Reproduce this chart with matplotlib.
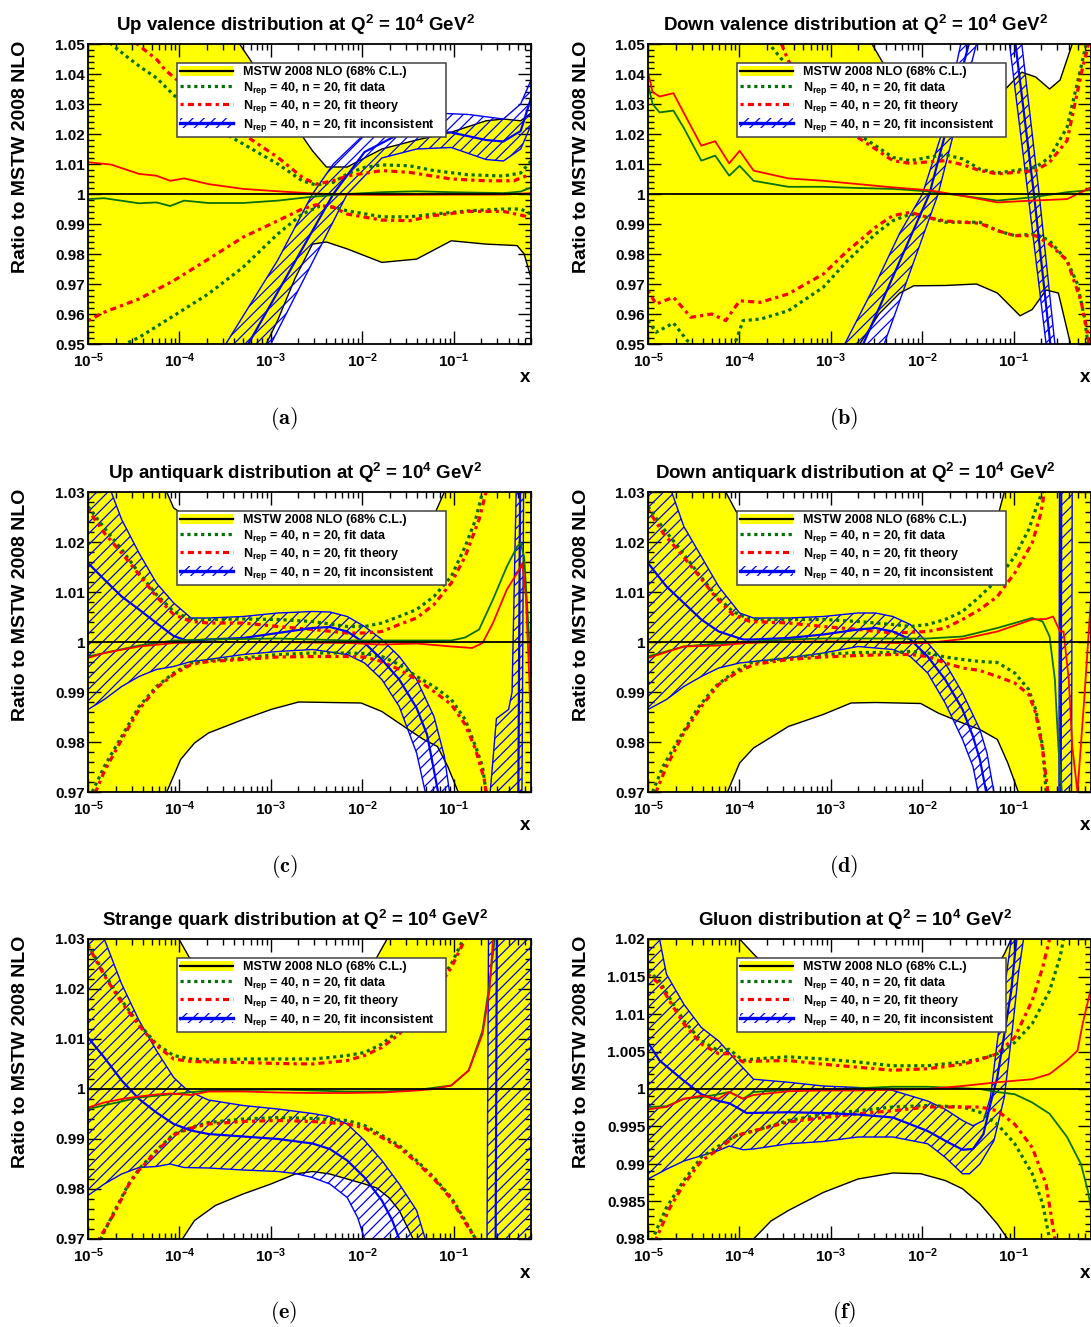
import numpy as np
import matplotlib
matplotlib.use('Agg')
import matplotlib.pyplot as plt
from matplotlib.patches import Patch
from matplotlib.lines import Line2D
from matplotlib.legend_handler import HandlerTuple
from matplotlib.ticker import FixedLocator, FuncFormatter, LogLocator, NullFormatter

plt.rcParams['font.family'] = ['Liberation Sans', 'DejaVu Sans']
plt.rcParams['font.weight'] = 'bold'
plt.rcParams['mathtext.fontset'] = 'custom'
plt.rcParams['mathtext.rm'] = 'Liberation Sans:bold'
plt.rcParams['mathtext.it'] = 'Liberation Sans:bold'
plt.rcParams['mathtext.bf'] = 'Liberation Sans:bold'
plt.rcParams['mathtext.sf'] = 'Liberation Sans:bold'
plt.rcParams['hatch.linewidth'] = 0.9

# ---------------- data: (log10 x, ratio) ----------------
# Panel (a) up valence
a_band_hi = [(-5, 1.08), (-4, 1.065), (-3.6, 1.055), (-3.342, 1.05), (-2.924, 1.031), (-2.545, 1.0144), (-2.393, 1.009), (-2.165, 1.009), (-1.975, 1.012), (-1.786, 1.015), (-1.406, 1.018), (-1.027, 1.0206), (-0.647, 1.0244), (-0.457, 1.025), (-0.268, 1.0244), (-0.154, 1.027)]
a_band_lo = [(-5, 0.90), (-4, 0.92), (-3.5, 0.94), (-3.05, 0.95), (-2.924, 0.958), (-2.734, 0.972), (-2.545, 0.9833), (-2.393, 0.984), (-2.165, 0.9817), (-1.786, 0.9772), (-1.406, 0.9783), (-1.027, 0.9844), (-0.647, 0.9833), (-0.306, 0.9828), (-0.230, 0.980), (-0.154, 0.972)]
a_gd_hi = [(-5, 1.062), (-4.746, 1.05), (-4.576, 1.0458), (-4.43, 1.0424), (-4.247, 1.0386), (-4.063, 1.033), (-3.683, 1.0233), (-3.304, 1.0167), (-2.924, 1.010), (-2.658, 1.0044), (-2.507, 1.003), (-2.317, 1.0039), (-2.165, 1.0067), (-1.975, 1.0089), (-1.786, 1.0097), (-1.482, 1.0094), (-1.216, 1.0078), (-0.837, 1.0064), (-0.457, 1.006), (-0.268, 1.007), (-0.154, 1.011)]
a_gd_lo = [(-5, 0.935), (-4.594, 0.95), (-4.442, 0.9522), (-4.063, 0.9594), (-3.683, 0.9667), (-3.304, 0.9756), (-2.924, 0.9867), (-2.658, 0.9933), (-2.469, 0.9959), (-2.317, 0.9956), (-2.165, 0.9944), (-1.786, 0.9924), (-1.482, 0.9924), (-1.216, 0.9933), (-0.837, 0.9944), (-0.457, 0.995), (-0.268, 0.995), (-0.154, 0.9933)]
a_gd_c = [(-5, 0.9983), (-4.822, 0.9986), (-4.442, 0.9969), (-4.252, 0.9972), (-4.101, 0.996), (-3.949, 0.9978), (-3.683, 0.997), (-3.304, 0.997), (-2.924, 0.9978), (-2.545, 0.9991), (-2.165, 1.0), (-1.786, 1.0006), (-1.406, 1.0009), (-1.027, 1.0006), (-0.457, 1.0003), (-0.268, 1.0008), (-0.154, 1.0022)]
a_th_hi = [(-5, 1.075), (-4.463, 1.05), (-4.244, 1.0447), (-4.156, 1.0413), (-4.063, 1.039), (-3.683, 1.0289), (-3.304, 1.02), (-2.924, 1.0122), (-2.658, 1.0056), (-2.507, 1.0033), (-2.317, 1.0044), (-2.165, 1.006), (-1.786, 1.0078), (-1.482, 1.0072), (-1.027, 1.005), (-0.647, 1.0044), (-0.343, 1.0044), (-0.154, 1.0067)]
a_th_lo = [(-5, 0.9578), (-4.822, 0.9606), (-4.442, 0.965), (-4.063, 0.9711), (-3.683, 0.9783), (-3.304, 0.9856), (-2.924, 0.9911), (-2.658, 0.995), (-2.507, 0.9964), (-2.317, 0.9956), (-2.165, 0.9933), (-1.786, 0.9913), (-1.482, 0.9911), (-1.216, 0.9928), (-0.837, 0.9942), (-0.457, 0.9942), (-0.154, 0.9922)]
a_th_c = [(-5, 1.0106), (-4.746, 1.0098), (-4.442, 1.0067), (-4.252, 1.0061), (-4.101, 1.0044), (-3.949, 1.0052), (-3.683, 1.0033), (-3.304, 1.0017), (-2.924, 1.0009), (-2.545, 1.0002), (-2.165, 0.9998), (-1.786, 0.9997), (-1.027, 0.9998), (-0.457, 0.9998), (-0.154, 1.0003)]
a_in_hi = [(-5, 0.80), (-4, 0.90), (-3.493, 0.95), (-2.924, 0.978), (-2.545, 1.0), (-2.317, 1.01), (-1.975, 1.02), (-1.596, 1.025), (-1.216, 1.027), (-0.837, 1.0265), (-0.457, 1.025), (-0.268, 1.030), (-0.154, 1.038)]
a_in_c = [(-5, 0.78), (-4, 0.88), (-3.247, 0.95), (-2.317, 1.0), (-1.975, 1.014), (-1.596, 1.020), (-1.406, 1.021), (-1.027, 1.0205), (-0.647, 1.018), (-0.457, 1.0175), (-0.268, 1.021), (-0.154, 1.032)]
a_in_lo = [(-5, 0.76), (-4, 0.86), (-3.0, 0.95), (-2.165, 1.0), (-1.786, 1.012), (-1.406, 1.015), (-1.027, 1.0155), (-0.647, 1.0115), (-0.457, 1.011), (-0.268, 1.015), (-0.154, 1.023)]

# Panel (b) down valence
b_band_hi = [(-5, 1.09), (-3, 1.07), (-2.550, 1.05), (-2.417, 1.043), (-2.131, 1.035), (-1.750, 1.031), (-1.370, 1.031), (-1.122, 1.034), (-0.912, 1.0406), (-0.760, 1.039), (-0.608, 1.035), (-0.493, 1.038), (-0.360, 1.05), (-0.154, 1.07)]
b_band_lo = [(-5, 0.90), (-3, 0.93), (-2.684, 0.95), (-2.474, 0.96), (-2.246, 0.967), (-2.093, 0.9694), (-1.750, 0.9695), (-1.408, 0.970), (-1.179, 0.967), (-0.931, 0.9594), (-0.798, 0.9615), (-0.646, 0.968), (-0.512, 0.967), (-0.379, 0.95), (-0.154, 0.92)]
b_gd_hi = [(-5, 1.10), (-3.674, 1.05), (-3.465, 1.0422), (-3.274, 1.035), (-3.084, 1.0289), (-2.817, 1.0222), (-2.512, 1.0161), (-2.322, 1.0122), (-2.131, 1.0111), (-1.941, 1.0122), (-1.750, 1.0131), (-1.560, 1.0117), (-1.370, 1.0083), (-1.179, 1.007), (-0.989, 1.0078), (-0.760, 1.0089), (-0.608, 1.0122), (-0.417, 1.0222), (-0.265, 1.0422), (-0.208, 1.05), (-0.154, 1.06)]
b_gd_lo = [(-5, 0.9578), (-4.912, 0.9539), (-4.722, 0.957), (-4.570, 0.9511), (-4.341, 0.946), (-4.074, 0.948), (-3.960, 0.9578), (-3.770, 0.9583), (-3.465, 0.9611), (-3.084, 0.9689), (-2.817, 0.9778), (-2.512, 0.9867), (-2.322, 0.9911), (-2.131, 0.9933), (-1.941, 0.9922), (-1.750, 0.9906), (-1.370, 0.9906), (-1.179, 0.9878), (-0.989, 0.9861), (-0.760, 0.9867), (-0.608, 0.9844), (-0.417, 0.9778), (-0.303, 0.970), (-0.227, 0.9589), (-0.189, 0.95), (-0.154, 0.94)]
b_gd_c = [(-5, 1.0367), (-4.95, 1.030), (-4.874, 1.0272), (-4.722, 1.0278), (-4.608, 1.022), (-4.417, 1.0111), (-4.265, 1.0128), (-4.112, 1.0061), (-3.998, 1.0094), (-3.846, 1.0044), (-3.465, 1.0024), (-3.084, 1.0024), (-2.703, 1.002), (-2.322, 1.0017), (-1.941, 1.0009), (-1.560, 0.9994), (-1.179, 0.9978), (-0.798, 0.9989), (-0.417, 1.0006), (-0.154, 1.0013)]
b_th_hi = [(-5, 1.10), (-3.541, 1.05), (-3.465, 1.0444), (-3.084, 1.0278), (-2.817, 1.0211), (-2.512, 1.015), (-2.322, 1.0111), (-2.131, 1.0102), (-1.941, 1.0107), (-1.750, 1.0111), (-1.560, 1.0098), (-1.370, 1.0078), (-1.179, 1.0067), (-0.989, 1.0072), (-0.760, 1.0078), (-0.608, 1.0106), (-0.417, 1.0178), (-0.246, 1.0422), (-0.189, 1.049), (-0.154, 1.056)]
b_th_lo = [(-5, 0.9678), (-4.912, 0.9633), (-4.722, 0.9656), (-4.531, 0.9589), (-4.303, 0.96), (-4.150, 0.9578), (-3.998, 0.9644), (-3.770, 0.9639), (-3.465, 0.9667), (-3.084, 0.9733), (-2.817, 0.9811), (-2.512, 0.9889), (-2.322, 0.9928), (-2.131, 0.9939), (-1.941, 0.9922), (-1.750, 0.991), (-1.370, 0.9902), (-1.179, 0.9878), (-0.989, 0.9861), (-0.760, 0.9861), (-0.608, 0.9833), (-0.417, 0.9778), (-0.265, 0.9644), (-0.189, 0.9533), (-0.154, 0.945)]
b_th_c = [(-5, 1.0406), (-4.95, 1.034), (-4.874, 1.0325), (-4.722, 1.0336), (-4.608, 1.027), (-4.417, 1.0161), (-4.265, 1.0176), (-4.112, 1.0102), (-3.998, 1.0144), (-3.846, 1.0078), (-3.465, 1.0052), (-3.084, 1.0044), (-2.703, 1.0033), (-2.322, 1.0022), (-1.941, 1.0013), (-1.560, 0.9994), (-1.179, 0.9972), (-0.798, 0.9978), (-0.417, 0.9983), (-0.154, 1.0022)]
b_in_hi = [(-5, 0.75), (-3.5, 0.90), (-2.848, 0.95), (-2.512, 0.97), (-2.246, 0.987), (-1.998, 1.0), (-1.789, 1.02), (-1.579, 1.05), (-1.370, 1.08), (-1.179, 1.09), (-0.989, 1.08), (-0.912, 1.05), (-0.722, 1.0), (-0.550, 0.95), (-0.154, 0.85)]
b_in_c = [(-5, 0.73), (-3.5, 0.88), (-2.646, 0.95), (-1.922, 1.0), (-1.491, 1.05), (-1.255, 1.075), (-0.981, 1.05), (-0.779, 1.0), (-0.600, 0.95), (-0.154, 0.84)]
b_in_lo = [(-5, 0.71), (-3.5, 0.86), (-2.417, 0.95), (-1.827, 1.0), (-1.408, 1.05), (-1.217, 1.065), (-1.046, 1.05), (-0.844, 1.0), (-0.646, 0.95), (-0.154, 0.83)]

# Panel (c) up antiquark
c_band_hi = [(-5, 1.06), (-4.3, 1.035), (-4.139, 1.03), (-4.063, 1.0268), (-4.006, 1.0261), (-3.683, 1.021), (-2.924, 1.0175), (-2.165, 1.0165), (-1.596, 1.018), (-1.292, 1.023), (-1.197, 1.0261), (-1.102, 1.03), (-0.837, 1.05), (-0.154, 1.06)]
c_band_lo = [(-5, 0.93), (-4.3, 0.96), (-4.139, 0.97), (-3.987, 0.9765), (-3.835, 0.9798), (-3.683, 0.9818), (-3.304, 0.9845), (-3.0, 0.9865), (-2.696, 0.988), (-2.355, 0.9879), (-2.013, 0.9878), (-1.786, 0.9861), (-1.520, 0.9828), (-1.330, 0.9805), (-1.178, 0.9791), (-1.065, 0.9751), (-0.951, 0.97), (-0.647, 0.94), (-0.154, 0.92)]
c_gd_hi = [(-5, 1.0271), (-4.822, 1.0228), (-4.632, 1.0185), (-4.442, 1.0138), (-4.252, 1.0095), (-4.063, 1.0061), (-3.873, 1.0045), (-3.683, 1.0045), (-3.304, 1.0046), (-2.924, 1.0045), (-2.545, 1.0041), (-2.165, 1.0031), (-1.975, 1.0031), (-1.786, 1.0038), (-1.596, 1.0051), (-1.406, 1.0065), (-1.216, 1.0091), (-1.027, 1.0131), (-0.875, 1.0191), (-0.761, 1.0245), (-0.685, 1.03), (-0.571, 1.05)]
c_gd_lo = [(-5, 0.966), (-4.954, 0.97), (-4.822, 0.9751), (-4.632, 0.9811), (-4.442, 0.9871), (-4.252, 0.9911), (-4.063, 0.9938), (-3.873, 0.9958), (-3.683, 0.9963), (-3.304, 0.9968), (-2.924, 0.9975), (-2.545, 0.9978), (-2.165, 0.9978), (-1.975, 0.9977), (-1.786, 0.9971), (-1.596, 0.9955), (-1.406, 0.9931), (-1.216, 0.9911), (-1.027, 0.9885), (-0.875, 0.9845), (-0.761, 0.9791), (-0.685, 0.9751), (-0.647, 0.97), (-0.609, 0.95)]
c_gd_c = [(-5, 0.9971), (-4.442, 0.9993), (-4.063, 1.0003), (-3.683, 1.0005), (-2.924, 1.0007), (-2.165, 1.0003), (-1.786, 1.0003), (-1.406, 1.0003), (-1.027, 1.0003), (-0.875, 1.0009), (-0.723, 1.0025), (-0.571, 1.0085), (-0.419, 1.0151), (-0.306, 1.0191), (-0.268, 1.0198), (-0.230, 1.017), (-0.192, 1.0058), (-0.154, 0.9938)]
c_th_hi = [(-5, 1.0265), (-4.822, 1.0218), (-4.632, 1.0178), (-4.442, 1.0135), (-4.252, 1.0091), (-4.063, 1.0055), (-3.873, 1.0041), (-3.683, 1.0038), (-3.304, 1.0038), (-2.924, 1.0031), (-2.545, 1.0025), (-2.165, 1.0018), (-1.975, 1.0018), (-1.786, 1.0021), (-1.596, 1.0035), (-1.406, 1.0048), (-1.216, 1.0075), (-1.027, 1.0118), (-0.875, 1.0171), (-0.723, 1.0245), (-0.647, 1.03), (-0.533, 1.05)]
c_th_lo = [(-5, 0.965), (-4.917, 0.97), (-4.822, 0.9741), (-4.632, 0.9805), (-4.442, 0.9865), (-4.252, 0.9908), (-4.063, 0.9935), (-3.873, 0.9955), (-3.683, 0.9961), (-3.304, 0.9965), (-2.924, 0.997), (-2.545, 0.9971), (-2.165, 0.9971), (-1.975, 0.997), (-1.786, 0.9961), (-1.596, 0.9945), (-1.406, 0.9925), (-1.216, 0.9901), (-1.027, 0.9875), (-0.875, 0.9835), (-0.761, 0.9785), (-0.666, 0.9725), (-0.647, 0.97), (-0.609, 0.95)]
c_th_c = [(-5, 0.9968), (-4.822, 0.9978), (-4.442, 0.9991), (-4.063, 0.9998), (-3.683, 1.0), (-2.924, 1.0), (-2.165, 0.9998), (-1.786, 0.9995), (-1.406, 0.9997), (-1.027, 0.9991), (-0.799, 0.9988), (-0.685, 0.9998), (-0.571, 1.0038), (-0.419, 1.0105), (-0.306, 1.0138), (-0.249, 1.0158), (-0.211, 1.0091), (-0.173, 0.9925), (-0.154, 0.9791)]
c_in_hi = [(-5, 1.04), (-4.746, 1.03), (-4.632, 1.0245), (-4.442, 1.0178), (-4.252, 1.0118), (-4.063, 1.0078), (-3.873, 1.0048), (-3.683, 1.0048), (-3.304, 1.0051), (-2.924, 1.0058), (-2.545, 1.0061), (-2.355, 1.006), (-2.165, 1.0051), (-1.975, 1.0031), (-1.786, 1.0005), (-1.596, 0.9971), (-1.406, 0.9925), (-1.216, 0.9851), (-1.102, 0.9771), (-1.046, 0.97), (-0.837, 0.95), (-0.647, 0.96), (-0.533, 0.9847), (-0.400, 0.9865), (-0.362, 0.99), (-0.306, 1.04), (-0.154, 1.06)]
c_in_c = [(-5, 1.0158), (-4.822, 1.0125), (-4.632, 1.0091), (-4.442, 1.0065), (-4.252, 1.0038), (-4.063, 1.0012), (-3.911, 1.0002), (-3.683, 1.0005), (-3.304, 1.0008), (-2.924, 1.0018), (-2.545, 1.0028), (-2.355, 1.003), (-2.165, 1.0021), (-1.975, 0.9998), (-1.786, 0.9965), (-1.596, 0.9925), (-1.406, 0.9868), (-1.292, 0.9815), (-1.171, 0.97), (-0.837, 0.93), (-0.306, 0.93), (-0.268, 1.05), (-0.154, 1.06)]
c_in_lo = [(-5, 0.9865), (-4.822, 0.9885), (-4.632, 0.9911), (-4.442, 0.9931), (-4.252, 0.9945), (-4.063, 0.9951), (-3.873, 0.9961), (-3.683, 0.9965), (-3.304, 0.9975), (-2.924, 0.9981), (-2.545, 0.9985), (-2.165, 0.9975), (-1.975, 0.9958), (-1.786, 0.9925), (-1.596, 0.9871), (-1.406, 0.9778), (-1.311, 0.97), (-1.027, 0.93), (-0.268, 0.92), (-0.230, 1.05), (-0.154, 1.06)]

# Panel (d) down antiquark
d_band_hi = [(-5, 1.06), (-4.3, 1.035), (-4.150, 1.03), (-4.036, 1.0261), (-3.846, 1.022), (-3.084, 1.017), (-2.322, 1.0145), (-1.941, 1.0138), (-1.712, 1.0139), (-1.370, 1.018), (-1.160, 1.0261), (-1.103, 1.03), (-0.798, 1.05), (-0.154, 1.06)]
d_band_lo = [(-5, 0.93), (-4.3, 0.96), (-4.131, 0.97), (-3.998, 0.9758), (-3.846, 0.9788), (-3.465, 0.9831), (-3.084, 0.9855), (-2.779, 0.9878), (-2.512, 0.9879), (-2.017, 0.9877), (-1.827, 0.9858), (-1.560, 0.9838), (-1.370, 0.9825), (-1.179, 0.9805), (-1.065, 0.9758), (-0.950, 0.97), (-0.608, 0.94), (-0.154, 0.92)]
d_gd_hi = [(-5, 1.0271), (-4.836, 1.0228), (-4.646, 1.0185), (-4.455, 1.0138), (-4.265, 1.0095), (-4.074, 1.0061), (-3.884, 1.0045), (-3.465, 1.0045), (-3.084, 1.0045), (-2.703, 1.0041), (-2.322, 1.0035), (-2.131, 1.0031), (-1.941, 1.0035), (-1.750, 1.0045), (-1.560, 1.0061), (-1.370, 1.0091), (-1.179, 1.0125), (-0.989, 1.0171), (-0.836, 1.0225), (-0.722, 1.0285), (-0.684, 1.03), (-0.608, 1.05)]
d_gd_lo = [(-5, 0.966), (-4.950, 0.97), (-4.836, 0.9751), (-4.646, 0.9811), (-4.455, 0.9868), (-4.265, 0.9911), (-4.074, 0.9938), (-3.884, 0.9958), (-3.465, 0.9968), (-3.084, 0.9975), (-2.703, 0.9979), (-2.322, 0.9979), (-2.131, 0.9981), (-1.941, 0.9978), (-1.750, 0.997), (-1.560, 0.9965), (-1.370, 0.9961), (-1.179, 0.9959), (-0.989, 0.9938), (-0.836, 0.9905), (-0.760, 0.9865), (-0.684, 0.9791), (-0.646, 0.97), (-0.608, 0.95)]
d_gd_c = [(-5, 0.9971), (-4.608, 0.9991), (-4.227, 0.9997), (-3.922, 1.0), (-3.465, 1.0005), (-3.084, 1.0007), (-2.703, 1.0007), (-2.322, 1.0007), (-1.941, 1.0007), (-1.560, 1.0011), (-1.179, 1.0028), (-0.798, 1.0048), (-0.684, 1.0041), (-0.608, 1.0011), (-0.550, 0.9925), (-0.512, 0.9791), (-0.474, 0.97), (-0.417, 0.95)]
d_th_hi = [(-5, 1.0265), (-4.836, 1.0218), (-4.646, 1.0178), (-4.455, 1.0135), (-4.265, 1.0091), (-4.074, 1.0055), (-3.884, 1.0041), (-3.465, 1.0038), (-3.084, 1.0031), (-2.703, 1.0025), (-2.322, 1.0018), (-1.941, 1.0021), (-1.750, 1.0028), (-1.560, 1.0045), (-1.370, 1.0065), (-1.179, 1.0091), (-0.989, 1.0138), (-0.798, 1.0198), (-0.703, 1.0258), (-0.665, 1.03), (-0.589, 1.05)]
d_th_lo = [(-5, 0.965), (-4.912, 0.97), (-4.798, 0.9751), (-4.608, 0.9818), (-4.417, 0.9871), (-4.227, 0.9915), (-4.036, 0.9938), (-3.846, 0.9955), (-3.465, 0.9965), (-3.084, 0.997), (-2.703, 0.9973), (-2.322, 0.9975), (-2.131, 0.9975), (-1.941, 0.9971), (-1.750, 0.9958), (-1.560, 0.9948), (-1.370, 0.9943), (-1.179, 0.9931), (-0.989, 0.9918), (-0.836, 0.9895), (-0.760, 0.9858), (-0.684, 0.9785), (-0.627, 0.97), (-0.589, 0.95)]
d_th_c = [(-5, 0.9968), (-4.608, 0.9991), (-4.227, 0.9993), (-3.922, 0.9998), (-3.465, 1.0001), (-3.084, 1.0001), (-2.703, 1.0001), (-2.322, 0.9998), (-1.941, 0.9998), (-1.560, 1.0006), (-1.179, 1.0021), (-0.798, 1.0045), (-0.646, 1.0046), (-0.570, 1.0051), (-0.493, 1.0021), (-0.455, 1.0021), (-0.398, 0.9925), (-0.360, 0.9791), (-0.303, 0.97), (-0.227, 0.9891), (-0.154, 1.009)]
d_in_hi = [(-5, 1.045), (-4.741, 1.03), (-4.608, 1.0231), (-4.417, 1.0171), (-4.227, 1.0111), (-3.998, 1.0058), (-3.846, 1.0048), (-3.465, 1.0048), (-3.084, 1.0051), (-2.703, 1.0058), (-2.512, 1.0058), (-2.322, 1.0051), (-2.131, 1.0035), (-1.941, 0.9998), (-1.750, 0.9958), (-1.560, 0.9898), (-1.370, 0.9825), (-1.293, 0.9778), (-1.217, 0.97), (-0.798, 0.90), (-0.512, 0.90), (-0.493, 1.10), (-0.154, 1.10)]
d_in_c = [(-5, 1.0158), (-4.798, 1.0111), (-4.608, 1.0078), (-4.417, 1.0045), (-4.227, 1.0021), (-3.960, 1.0005), (-3.846, 1.0005), (-3.465, 1.0008), (-3.084, 1.0015), (-2.703, 1.0025), (-2.512, 1.0028), (-2.322, 1.0021), (-2.131, 1.0005), (-1.941, 0.9971), (-1.750, 0.9925), (-1.560, 0.9865), (-1.446, 0.9811), (-1.370, 0.9765), (-1.301, 0.97), (-0.798, 0.89), (-0.493, 0.89), (-0.474, 1.10), (-0.154, 1.10)]
d_in_lo = [(-5, 0.9865), (-4.798, 0.9885), (-4.608, 0.9911), (-4.417, 0.9931), (-4.227, 0.9948), (-3.998, 0.9958), (-3.846, 0.9961), (-3.465, 0.9968), (-3.084, 0.9978), (-2.703, 0.9991), (-2.322, 0.9985), (-2.131, 0.9971), (-1.941, 0.9938), (-1.750, 0.9878), (-1.560, 0.9805), (-1.446, 0.9751), (-1.389, 0.97), (-0.798, 0.88), (-0.379, 0.88), (-0.352, 1.10), (-0.154, 1.10)]

# Panel (e) strange
e_band_hi = [(-5, 1.06), (-4.3, 1.035), (-4.006, 1.03), (-3.892, 1.0263), (-3.493, 1.022), (-2.924, 1.019), (-2.355, 1.02), (-1.975, 1.0235), (-1.842, 1.0263), (-1.729, 1.03), (-1.406, 1.045), (-0.154, 1.06)]
e_band_lo = [(-5, 0.93), (-4.3, 0.96), (-3.968, 0.97), (-3.835, 0.9737), (-3.607, 0.9767), (-3.304, 0.979), (-3.0, 0.981), (-2.734, 0.983), (-2.545, 0.9835), (-2.355, 0.983), (-2.165, 0.982), (-1.975, 0.981), (-1.842, 0.9802), (-1.710, 0.9783), (-1.596, 0.9757), (-1.444, 0.97), (-1.027, 0.94), (-0.154, 0.92)]
e_gd_hi = [(-5, 1.029), (-4.822, 1.023), (-4.632, 1.0177), (-4.442, 1.013), (-4.252, 1.009), (-4.063, 1.0067), (-3.873, 1.006), (-3.683, 1.0058), (-3.304, 1.006), (-2.924, 1.006), (-2.545, 1.006), (-2.355, 1.0063), (-2.165, 1.0067), (-1.975, 1.0073), (-1.786, 1.009), (-1.596, 1.0117), (-1.406, 1.0157), (-1.216, 1.0197), (-1.027, 1.025), (-0.894, 1.03), (-0.799, 1.05)]
e_gd_lo = [(-5, 0.962), (-4.860, 0.97), (-4.708, 0.9757), (-4.556, 0.981), (-4.442, 0.984), (-4.252, 0.9877), (-4.063, 0.991), (-3.873, 0.9923), (-3.683, 0.9933), (-3.304, 0.994), (-2.924, 0.9943), (-2.545, 0.9941), (-2.165, 0.9937), (-1.975, 0.9927), (-1.786, 0.9907), (-1.596, 0.9887), (-1.406, 0.9857), (-1.216, 0.9823), (-1.027, 0.9783), (-0.875, 0.9737), (-0.761, 0.97), (-0.647, 0.96)]
e_gd_c = [(-5, 0.996), (-4.442, 0.9983), (-4.063, 0.999), (-3.683, 0.9997), (-3.304, 0.9998), (-2.924, 0.9999), (-2.545, 0.9997), (-2.165, 0.9995), (-1.786, 0.9995), (-1.406, 0.9998), (-1.027, 1.0007), (-0.837, 1.0037), (-0.685, 1.0117), (-0.609, 1.021), (-0.552, 1.03), (-0.514, 1.05)]
e_th_hi = [(-5, 1.0287), (-4.822, 1.0227), (-4.632, 1.0173), (-4.442, 1.0127), (-4.252, 1.0087), (-4.063, 1.006), (-3.873, 1.0055), (-3.304, 1.0053), (-2.924, 1.0051), (-2.545, 1.005), (-2.165, 1.0057), (-1.975, 1.0067), (-1.786, 1.0083), (-1.596, 1.011), (-1.406, 1.015), (-1.216, 1.019), (-1.027, 1.0243), (-0.875, 1.03), (-0.780, 1.05)]
e_th_lo = [(-5, 0.963), (-4.879, 0.97), (-4.708, 0.9753), (-4.556, 0.9808), (-4.442, 0.9838), (-4.252, 0.9875), (-4.063, 0.9908), (-3.873, 0.9922), (-3.683, 0.993), (-3.304, 0.9935), (-2.924, 0.9937), (-2.545, 0.9935), (-2.165, 0.993), (-1.975, 0.9922), (-1.786, 0.9903), (-1.596, 0.9883), (-1.406, 0.9853), (-1.216, 0.982), (-1.027, 0.978), (-0.875, 0.9733), (-0.761, 0.97), (-0.647, 0.96)]
e_th_c = [(-5, 0.9963), (-4.822, 0.9973), (-4.632, 0.998), (-4.442, 0.9985), (-4.252, 0.9989), (-4.101, 0.9991), (-3.873, 0.9988), (-3.683, 0.9995), (-3.304, 0.9995), (-2.924, 0.9993), (-2.545, 0.9992), (-2.165, 0.9992), (-1.786, 0.9993), (-1.406, 0.9997), (-1.216, 1.0), (-1.027, 1.0007), (-0.837, 1.0037), (-0.685, 1.011), (-0.609, 1.0197), (-0.571, 1.03), (-0.533, 1.05)]
e_in_hi = [(-5, 1.045), (-4.822, 1.03), (-4.632, 1.021), (-4.442, 1.0137), (-4.252, 1.0077), (-4.063, 1.0023), (-3.911, 0.9997), (-3.683, 0.9978), (-3.304, 0.9967), (-2.924, 0.996), (-2.545, 0.9951), (-2.355, 0.9945), (-2.165, 0.993), (-1.975, 0.9897), (-1.786, 0.9857), (-1.596, 0.981), (-1.406, 0.9757), (-1.311, 0.97), (-1.027, 0.94), (-0.647, 0.93), (-0.601, 1.10), (-0.154, 1.10)]
e_in_c = [(-5, 1.0103), (-4.822, 1.0063), (-4.632, 1.0017), (-4.442, 0.998), (-4.252, 0.9953), (-4.063, 0.993), (-3.873, 0.9917), (-3.683, 0.991), (-3.304, 0.9905), (-2.924, 0.99), (-2.545, 0.9891), (-2.355, 0.988), (-2.165, 0.9857), (-1.975, 0.9823), (-1.786, 0.9777), (-1.672, 0.9737), (-1.596, 0.97), (-1.027, 0.93), (-0.552, 0.92), (-0.514, 1.10), (-0.154, 1.10)]
e_in_lo = [(-5, 0.9787), (-4.822, 0.981), (-4.632, 0.983), (-4.442, 0.9843), (-4.252, 0.9845), (-4.101, 0.985), (-3.949, 0.9843), (-3.683, 0.9842), (-3.304, 0.9838), (-2.924, 0.9835), (-2.734, 0.9831), (-2.545, 0.9823), (-2.355, 0.981), (-2.165, 0.9783), (-2.051, 0.9743), (-1.975, 0.97), (-1.406, 0.93), (-0.154, 0.90)]

# Panel (f) gluon
f_band_hi = [(-5, 1.04), (-4.2, 1.025), (-3.998, 1.02), (-3.846, 1.018), (-3.655, 1.0158), (-3.084, 1.012), (-2.512, 1.0095), (-2.131, 1.0089), (-1.827, 1.0086), (-1.636, 1.0091), (-1.370, 1.0125), (-1.103, 1.018), (-1.027, 1.02), (-0.798, 1.03), (-0.154, 1.04)]
f_band_lo = [(-5, 0.96), (-4.3, 0.975), (-3.846, 0.98), (-3.655, 0.9824), (-3.465, 0.9838), (-3.084, 0.9862), (-2.703, 0.988), (-2.322, 0.9888), (-2.017, 0.9887), (-1.750, 0.9878), (-1.560, 0.9867), (-1.370, 0.9847), (-1.179, 0.982), (-1.065, 0.98), (-0.798, 0.97), (-0.154, 0.96)]
f_gd_hi = [(-5, 1.0158), (-4.874, 1.0144), (-4.722, 1.0113), (-4.608, 1.0091), (-4.417, 1.0064), (-4.227, 1.0051), (-4.112, 1.0053), (-3.960, 1.0038), (-3.846, 1.004), (-3.465, 1.0043), (-3.084, 1.004), (-2.703, 1.0036), (-2.322, 1.0031), (-1.941, 1.0031), (-1.560, 1.0036), (-1.370, 1.004), (-1.179, 1.0047), (-0.989, 1.0062), (-0.798, 1.0087), (-0.608, 1.0131), (-0.493, 1.0176), (-0.455, 1.02)]
f_gd_lo = [(-5, 0.979), (-4.950, 0.98), (-4.798, 0.9842), (-4.608, 0.9878), (-4.417, 0.9909), (-4.227, 0.9924), (-4.036, 0.9938), (-3.846, 0.9944), (-3.465, 0.9958), (-3.084, 0.9966), (-2.703, 0.9971), (-2.322, 0.9976), (-1.941, 0.9978), (-1.560, 0.9976), (-1.370, 0.9969), (-1.179, 0.9953), (-0.989, 0.9927), (-0.798, 0.9887), (-0.684, 0.9847), (-0.608, 0.98), (-0.531, 0.975)]
f_gd_c = [(-5, 0.9976), (-4.798, 0.9977), (-4.608, 0.9987), (-4.417, 0.9989), (-4.227, 0.9993), (-4.112, 0.9996), (-3.960, 0.9987), (-3.846, 0.9996), (-3.465, 0.9999), (-3.084, 0.9999), (-2.703, 1.0001), (-2.322, 1.0003), (-1.941, 1.0003), (-1.560, 1.0001), (-1.370, 1.0), (-1.179, 0.9996), (-0.989, 0.9993), (-0.798, 0.9982), (-0.608, 0.9967), (-0.417, 0.9936), (-0.265, 0.99), (-0.189, 0.9864), (-0.154, 0.984)]
f_th_hi = [(-5, 1.0153), (-4.874, 1.014), (-4.722, 1.0109), (-4.608, 1.0087), (-4.417, 1.006), (-4.227, 1.0047), (-4.112, 1.0047), (-3.960, 1.0036), (-3.846, 1.0037), (-3.465, 1.0038), (-3.084, 1.0033), (-2.703, 1.0029), (-2.322, 1.0025), (-1.941, 1.0027), (-1.560, 1.0033), (-1.370, 1.0039), (-1.179, 1.0047), (-0.989, 1.0069), (-0.798, 1.0118), (-0.684, 1.0162), (-0.608, 1.02)]
f_th_lo = [(-5, 0.979), (-4.912, 0.98), (-4.760, 0.9842), (-4.608, 0.9873), (-4.417, 0.9904), (-4.227, 0.992), (-4.036, 0.9938), (-3.846, 0.9944), (-3.465, 0.9956), (-3.084, 0.9962), (-2.703, 0.9967), (-2.322, 0.9971), (-1.941, 0.9976), (-1.560, 0.9976), (-1.370, 0.9976), (-1.179, 0.9971), (-0.989, 0.9953), (-0.798, 0.9922), (-0.646, 0.9873), (-0.550, 0.98), (-0.455, 0.975)]
f_th_c = [(-5, 0.9973), (-4.798, 0.9976), (-4.608, 0.9987), (-4.417, 0.9991), (-4.227, 0.9987), (-4.112, 0.9996), (-3.960, 0.9987), (-3.846, 0.9992), (-3.465, 0.9997), (-3.084, 0.9998), (-2.703, 0.9998), (-2.322, 0.9999), (-1.941, 1.0), (-1.560, 1.0004), (-1.179, 1.0009), (-0.989, 1.0011), (-0.798, 1.0013), (-0.608, 1.002), (-0.417, 1.0038), (-0.303, 1.0051), (-0.246, 1.0087), (-0.154, 1.0135)]
f_in_hi = [(-5, 1.025), (-4.874, 1.02), (-4.798, 1.0153), (-4.608, 1.0113), (-4.417, 1.0082), (-4.227, 1.0064), (-4.036, 1.0038), (-3.846, 1.0013), (-3.465, 1.0009), (-3.084, 1.0004), (-2.703, 1.0002), (-2.322, 0.9998), (-1.941, 0.9984), (-1.750, 0.9973), (-1.560, 0.9958), (-1.446, 0.9951), (-1.331, 0.9958), (-1.255, 0.9989), (-1.179, 1.0064), (-1.103, 1.0131), (-1.027, 1.02), (-0.798, 1.05), (-0.154, 1.06)]
f_in_c = [(-5, 1.0062), (-4.874, 1.0038), (-4.608, 1.0011), (-4.417, 0.9993), (-4.227, 0.9984), (-4.112, 0.9981), (-4.036, 0.9976), (-3.922, 0.9968), (-3.465, 0.9969), (-3.084, 0.9968), (-2.703, 0.9966), (-2.322, 0.9962), (-1.941, 0.9944), (-1.750, 0.9931), (-1.560, 0.9919), (-1.446, 0.992), (-1.331, 0.994), (-1.255, 0.998), (-1.179, 1.0016), (-1.103, 1.0073), (-1.027, 1.0131), (-0.970, 1.02), (-0.798, 1.04), (-0.154, 1.05)]
f_in_lo = [(-5, 0.988), (-4.798, 0.9893), (-4.608, 0.9904), (-4.417, 0.9911), (-4.227, 0.9918), (-4.112, 0.9924), (-3.960, 0.9919), (-3.846, 0.992), (-3.465, 0.9927), (-3.084, 0.993), (-2.703, 0.9936), (-2.322, 0.9936), (-1.941, 0.9927), (-1.750, 0.9909), (-1.560, 0.9887), (-1.484, 0.9887), (-1.370, 0.99), (-1.217, 0.9931), (-1.103, 0.9989), (-1.008, 1.0087), (-0.950, 1.0153), (-0.893, 1.02), (-0.722, 1.04), (-0.154, 1.05)]

titles = ['Up valence distribution at Q$^{2}$ = 10$^{4}$ GeV$^{2}$',
          'Down valence distribution at Q$^{2}$ = 10$^{4}$ GeV$^{2}$',
          'Up antiquark distribution at Q$^{2}$ = 10$^{4}$ GeV$^{2}$',
          'Down antiquark distribution at Q$^{2}$ = 10$^{4}$ GeV$^{2}$',
          'Strange quark distribution at Q$^{2}$ = 10$^{4}$ GeV$^{2}$',
          'Gluon distribution at Q$^{2}$ = 10$^{4}$ GeV$^{2}$']
captions = ['(a)', '(b)', '(c)', '(d)', '(e)', '(f)']
y_limits = [(0.95, 1.05), (0.95, 1.05), (0.97, 1.03), (0.97, 1.03), (0.97, 1.03), (0.98, 1.02)]
y_major = [0.01, 0.01, 0.01, 0.01, 0.01, 0.005]
y_minor = [0.002, 0.002, 0.002, 0.002, 0.002, 0.001]
legend_labels = ['MSTW 2008 NLO (68% C.L.)',
                 'N$_{\\mathrm{rep}}$ = 40, n = 20, fit data',
                 'N$_{\\mathrm{rep}}$ = 40, n = 20, fit theory',
                 'N$_{\\mathrm{rep}}$ = 40, n = 20, fit inconsistent']
x_range = (1e-5, 0.7)

panels = []
for p in 'abcdef':
    g = globals()
    panels.append({k: g[p + '_' + k] for k in
                   ['band_hi', 'band_lo', 'gd_hi', 'gd_lo', 'gd_c', 'th_hi', 'th_lo', 'th_c', 'in_hi', 'in_c', 'in_lo']})

# ---------------- styling ----------------
W, H = 1091, 1327
YELLOW = '#ffff00'
GREEN = '#0a6e0a'
RED = '#ff0000'
BLUE = '#0000ff'
LWD = 2.3
DOT = (0, (1.0, 1.15))
DASHDOT = (0, (1.0, 1.3, 1.9, 1.3))

fig = plt.figure(figsize=(W / 100, H / 100), dpi=100)


def px_axes(left, top, w, h):
    return fig.add_axes([left / W, 1 - (top + h) / H, w / W, h / H])


def xy(pairs):
    a = np.array(pairs, dtype=float)
    return 10 ** a[:, 0], a[:, 1]


def fmt_y(v, pos):
    return ('%.3f' % v).rstrip('0').rstrip('.')


def fmt_x(v, pos):
    e = int(round(np.log10(v)))
    return '10$^{%d}$' % e


col_left = [88, 648]
row_top = [44, 492, 939]
AW, AH = 443, 300

for i, S in enumerate(panels):
    r, c = divmod(i, 2)
    L, T = col_left[c], row_top[r]
    ax = px_axes(L, T, AW, AH)
    ax.set_xscale('log')
    ax.set_xlim(*x_range)
    ax.set_ylim(*y_limits[i])

    hx, hy = xy(S['band_hi'])
    lx, ly = xy(S['band_lo'])
    ax.fill(np.r_[hx, lx[::-1]], np.r_[hy, ly[::-1]], color=YELLOW, lw=0, zorder=1)
    ax.plot(hx, hy, color='k', lw=1.0, zorder=2)
    ax.plot(lx, ly, color='k', lw=1.0, zorder=2)

    ihx, ihy = xy(S['in_hi'])
    ilx, ily = xy(S['in_lo'])
    icx, icy = xy(S['in_c'])
    ax.fill(np.r_[ihx, ilx[::-1]], np.r_[ihy, ily[::-1]], facecolor='none',
            edgecolor=BLUE, hatch='///', lw=0, zorder=3)
    ax.plot(ihx, ihy, color=BLUE, lw=1.0, zorder=3)
    ax.plot(ilx, ily, color=BLUE, lw=1.0, zorder=3)

    for k in ['gd_hi', 'gd_lo']:
        x, y = xy(S[k])
        ax.plot(x, y, color=GREEN, lw=LWD, ls=DOT, zorder=4)
    for k in ['th_hi', 'th_lo']:
        x, y = xy(S[k])
        ax.plot(x, y, color=RED, lw=LWD, ls=DASHDOT, zorder=4)

    ax.plot(icx, icy, color=BLUE, lw=1.6, zorder=5)
    x, y = xy(S['gd_c'])
    ax.plot(x, y, color=GREEN, lw=1.3, zorder=5)
    x, y = xy(S['th_c'])
    ax.plot(x, y, color=RED, lw=1.3, zorder=5)
    ax.axhline(1.0, color='k', lw=1.3, zorder=6)

    y0, y1 = y_limits[i]
    n = int(round((y1 - y0) / y_major[i]))
    ax.yaxis.set_major_locator(FixedLocator(np.round(y0 + y_major[i] * np.arange(n + 1), 4)))
    m = int(round((y1 - y0) / y_minor[i]))
    ax.yaxis.set_minor_locator(FixedLocator(np.round(y0 + y_minor[i] * np.arange(m + 1), 4)))
    ax.yaxis.set_major_formatter(FuncFormatter(fmt_y))
    ax.xaxis.set_major_locator(LogLocator(base=10, numticks=12))
    ax.xaxis.set_minor_locator(LogLocator(base=10, subs=np.arange(2, 10), numticks=12))
    ax.xaxis.set_major_formatter(FuncFormatter(fmt_x))
    ax.xaxis.set_minor_formatter(NullFormatter())
    ax.tick_params(which='both', direction='in', top=True, right=True, width=1.0,
                   labelsize=11)
    ax.tick_params(which='major', length=9.5)
    ax.tick_params(which='minor', length=4.5)
    ax.tick_params(axis='y', pad=2)
    ax.tick_params(axis='x', pad=5)
    for s in ax.spines.values():
        s.set_linewidth(1.3)
        s.set_zorder(7)

    h1 = (Patch(facecolor=YELLOW, edgecolor='none'), Line2D([], [], color='k', lw=1.6))
    h2 = Line2D([], [], color=GREEN, lw=LWD, ls=DOT)
    h3 = Line2D([], [], color=RED, lw=LWD, ls=DASHDOT)
    h4 = (Patch(facecolor='none', edgecolor=BLUE, hatch='///', lw=0), Line2D([], [], color=BLUE, lw=2.4))
    leg = ax.legend([h1, h2, h3, h4], legend_labels,
                    handler_map={tuple: HandlerTuple(ndivide=1)},
                    loc='upper left', bbox_to_anchor=(0.20, 0.70, 0.608, 0.237),
                    mode='expand', borderaxespad=0, fontsize=9, frameon=True,
                    fancybox=False, framealpha=1, edgecolor='#444444',
                    borderpad=0.25, labelspacing=0.12, handlelength=4.3,
                    handletextpad=0.8, handleheight=0.8)
    leg.get_frame().set_linewidth(1.1)
    leg.set_zorder(10)

    fig.text((L + 207) / W, 1 - (T - 19) / H, titles[i], ha='center', va='center',
             fontsize=13.5, fontweight='bold')
    fig.text((L - 67) / W, 1 - (T - 3) / H, 'Ratio to MSTW 2008 NLO', rotation=90,
             ha='center', va='top', fontsize=14, fontweight='bold')
    fig.text((L + AW - 1) / W, 1 - (T + AH + 34) / H, 'x', ha='right', va='center',
             fontsize=13.5, fontweight='bold')
    fig.text((L + 196) / W, 1 - (T + AH + 74) / H, r'$\mathbf{%s}$' % captions[i],
             ha='center', va='center', fontsize=16, math_fontfamily='cm')

fig.savefig('out.png', dpi=100)
